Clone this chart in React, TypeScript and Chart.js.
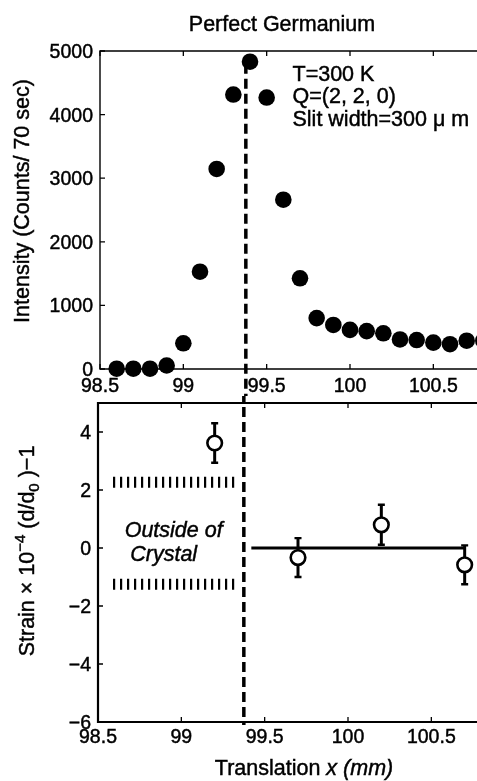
import React, { useEffect, useRef } from 'react';
import { Chart, registerables } from 'chart.js';

Chart.register(...registerables);

const FONT = '"Liberation Sans", Arial, Helvetica, sans-serif';

// ---------- data ----------
const translationX = [98.6, 98.7, 98.8, 98.9, 99.0, 99.1, 99.2, 99.3, 99.4, 99.5, 99.6, 99.7, 99.8, 99.9, 100.0, 100.1, 100.2, 100.3, 100.4, 100.5, 100.6, 100.7, 100.8];
const intensity = [5, 5, 5, 55, 404, 1530, 3145, 4315, 4832, 4268, 2662, 1426, 800, 692, 615, 595, 561, 465, 455, 415, 390, 445, 445];

const strainX = [99.2, 99.7, 100.2, 100.7];
const strain = [3.62, -0.33, 0.8, -0.58];
const strainErr = [0.68, 0.67, 0.69, 0.67];

const fitX = [99.42, 100.7];
const fitY = [0, 0];

const boundaryX = 99.375;
const boundaryTopIntensity = 4800;
const outsideBandX = [98.59, 99.34];
const outsideBandY = [2.27, -1.25];

const translationTicks = [98.5, 99, 99.5, 100, 100.5];
const intensityTicks = [0, 1000, 2000, 3000, 4000, 5000];
const strainTicks = [-6, -4, -2, 0, 2, 4];

const titleText = 'Perfect Germanium';
const infoLines = ['T=300 K', 'Q=(2, 2, 0)', 'Slit width=300 \u03bc m'];
const infoAnchor = { x: 99.655, y: [4533, 4175, 3826] };
const outsideLines = ['Outside of', 'Crystal'];
const outsideAnchor = { x: [98.954, 98.894], y: [0.38, -0.44] };

// ---------- helpers ----------
const fmt = (v: number) => (v < 0 ? '\u2212' + Math.abs(v) : String(v));
const TEXT_STROKE = 0.45;
const TICK_SIZE = 19.5;
const tickFontCss = `${TICK_SIZE}px ${FONT}`;
const textFont = `21.5px ${FONT}`;
const italicFont = `italic 21.5px ${FONT}`;
const smallFont = `15px ${FONT}`;

function fillBold(ctx: CanvasRenderingContext2D, t: string, x: number, y: number) {
  ctx.fillText(t, x, y);
  ctx.lineWidth = TEXT_STROKE;
  ctx.strokeStyle = '#000';
  ctx.strokeText(t, x, y);
}

type Seg = { t: string; font: string; dy?: number };
function drawRich(ctx: CanvasRenderingContext2D, segs: Seg[], cx: number, cy: number, rotate: boolean) {
  ctx.save();
  ctx.fillStyle = '#000';
  ctx.textBaseline = 'alphabetic';
  ctx.textAlign = 'left';
  let total = 0;
  const widths = segs.map((s) => {
    ctx.font = s.font;
    const w = ctx.measureText(s.t).width;
    total += w;
    return w;
  });
  ctx.translate(cx, cy);
  if (rotate) ctx.rotate(-Math.PI / 2);
  let x = -total / 2;
  segs.forEach((s, i) => {
    ctx.font = s.font;
    fillBold(ctx, s.t, x, s.dy || 0);
    x += widths[i];
  });
  ctx.restore();
}

// axes box, inward ticks and tick labels, drawn from the chart's own scales
function framePlugin(lw: number, tickLen: number, xLabelBaseline: number, yLabelGap: number) {
  return {
    id: 'frame',
    beforeDatasetsDraw(chart: any) {
      const { ctx, chartArea: a, scales } = chart;
      const x = scales.x;
      const y = scales.y;
      ctx.save();
      ctx.strokeStyle = '#000';
      ctx.lineWidth = lw;
      ctx.beginPath();
      ctx.moveTo(chart.width + 4, a.top);
      ctx.lineTo(a.left, a.top);
      ctx.lineTo(a.left, a.bottom);
      ctx.lineTo(chart.width + 4, a.bottom);
      ctx.stroke();
      ctx.lineWidth = 1.3;
      ctx.beginPath();
      x.ticks.forEach((t: any) => {
        const px = x.getPixelForValue(t.value);
        ctx.moveTo(px, a.bottom);
        ctx.lineTo(px, a.bottom - tickLen);
        ctx.moveTo(px, a.top);
        ctx.lineTo(px, a.top + tickLen);
      });
      y.ticks.forEach((t: any) => {
        const py = y.getPixelForValue(t.value);
        ctx.moveTo(a.left, py);
        ctx.lineTo(a.left + tickLen, py);
      });
      ctx.stroke();

      ctx.fillStyle = '#000';
      ctx.font = tickFontCss;
      ctx.textBaseline = 'alphabetic';
      ctx.textAlign = 'center';
      x.ticks.forEach((t: any) => {
        fillBold(ctx, fmt(t.value), x.getPixelForValue(t.value), a.bottom + xLabelBaseline);
      });
      ctx.textAlign = 'right';
      y.ticks.forEach((t: any) => {
        fillBold(ctx, fmt(t.value), a.left - yLabelGap, y.getPixelForValue(t.value) + TICK_SIZE * 0.36);
      });
      ctx.restore();
    },
  };
}

function boundaryPlugin(fromTop: number | null, toBottomPad: number | null, dashOffset: number) {
  return {
    id: 'boundary',
    beforeDatasetsDraw(chart: any) {
      const { ctx, scales, chartArea: a } = chart;
      const px = scales.x.getPixelForValue(boundaryX);
      const y0 = fromTop === null ? 0 : scales.y.getPixelForValue(fromTop);
      const y1 = toBottomPad === null ? chart.height : a.bottom + toBottomPad;
      ctx.save();
      ctx.strokeStyle = '#000';
      ctx.lineWidth = 3.5;
      ctx.setLineDash([10, 5]);
      ctx.lineDashOffset = dashOffset;
      ctx.beginPath();
      ctx.moveTo(px, y0);
      ctx.lineTo(px, y1);
      ctx.stroke();
      ctx.restore();
    },
  };
}

const TOP_H = 396;
const BOT_H = 781 - TOP_H;

function scaleX(min: number, max: number, height: number) {
  return {
    type: 'linear',
    min,
    max,
    grid: { display: false, drawTicks: false },
    border: { display: false },
    ticks: { display: false },
    afterBuildTicks: (s: any) => {
      s.ticks = translationTicks.map((v) => ({ value: v }));
    },
    afterFit: (s: any) => {
      s.height = height;
      s.paddingLeft = 0;
      s.paddingRight = 0;
      s.paddingTop = 0;
      s.paddingBottom = 0;
    },
  };
}

function scaleY(min: number, max: number, ticks: number[], width: number) {
  return {
    type: 'linear',
    min,
    max,
    grid: { display: false, drawTicks: false },
    border: { display: false },
    ticks: { display: false },
    afterBuildTicks: (s: any) => {
      s.ticks = ticks.map((v) => ({ value: v }));
    },
    afterFit: (s: any) => {
      s.width = width;
      s.paddingLeft = 0;
      s.paddingRight = 0;
      s.paddingTop = 0;
      s.paddingBottom = 0;
    },
  };
}

export default function App() {
  const topRef = useRef<HTMLCanvasElement | null>(null);
  const botRef = useRef<HTMLCanvasElement | null>(null);

  useEffect(() => {
    const topTexts = {
      id: 'topTexts',
      afterDraw(chart: any) {
        const { ctx, scales } = chart;
        ctx.save();
        ctx.fillStyle = '#000';
        ctx.font = textFont;
        ctx.textAlign = 'center';
        ctx.textBaseline = 'alphabetic';
        fillBold(ctx, titleText, 282, 31);
        ctx.textAlign = 'left';
        infoLines.forEach((line, i) => {
          fillBold(ctx, line, scales.x.getPixelForValue(infoAnchor.x), scales.y.getPixelForValue(infoAnchor.y[i]));
        });
        ctx.restore();
        drawRich(ctx, [{ t: 'Intensity (Counts/ 70 sec)', font: textFont }], 29, 201, true);
      },
    };

    const topChart = new Chart(topRef.current as HTMLCanvasElement, {
      type: 'scatter',
      data: {
        datasets: [
          {
            data: translationX.map((x, i) => ({ x, y: intensity[i] })),
            pointRadius: 8.3,
            pointHoverRadius: 8.3,
            backgroundColor: '#000',
            borderWidth: 0,
            clip: false as any,
          },
        ],
      },
      options: {
        animation: false,
        responsive: false,
        events: [],
        layout: { padding: { top: 51, left: 0, right: 0, bottom: 0 }, autoPadding: false },
        plugins: { legend: { display: false }, tooltip: { enabled: false }, title: { display: false } },
        scales: {
          x: scaleX(98.5, 100.762, TOP_H - 369),
          y: scaleY(0, 5000, intensityTicks, 100),
        },
      } as any,
      plugins: [framePlugin(1.4, 5, 23, 7), boundaryPlugin(boundaryTopIntensity, null, 0), topTexts],
    });

    const errorBars = {
      id: 'errorBars',
      beforeDatasetsDraw(chart: any) {
        const { ctx, scales } = chart;
        const { x, y } = scales;
        ctx.save();
        ctx.strokeStyle = '#000';
        strainX.forEach((xv, i) => {
          const px = x.getPixelForValue(xv);
          const top = y.getPixelForValue(strain[i] + strainErr[i]);
          const bot = y.getPixelForValue(strain[i] - strainErr[i]);
          ctx.lineWidth = 3;
          ctx.beginPath();
          ctx.moveTo(px, top);
          ctx.lineTo(px, bot);
          ctx.stroke();
          ctx.lineWidth = 2.4;
          ctx.beginPath();
          ctx.moveTo(px - 3.5, top);
          ctx.lineTo(px + 3.5, top);
          ctx.moveTo(px - 3.5, bot);
          ctx.lineTo(px + 3.5, bot);
          ctx.stroke();
        });
        ctx.restore();
      },
    };

    const botTexts = {
      id: 'botTexts',
      afterDraw(chart: any) {
        const { ctx, scales } = chart;
        ctx.save();
        ctx.fillStyle = '#000';
        ctx.font = italicFont;
        ctx.textAlign = 'center';
        ctx.textBaseline = 'alphabetic';
        outsideLines.forEach((line, i) => {
          fillBold(ctx, line, scales.x.getPixelForValue(outsideAnchor.x[i]), scales.y.getPixelForValue(outsideAnchor.y[i]));
        });
        ctx.restore();
        drawRich(
          ctx,
          [
            { t: 'Strain \u00d7 10', font: textFont },
            { t: '\u22124', font: smallFont, dy: -9 },
            { t: ' (d/d', font: textFont },
            { t: '0', font: smallFont, dy: 5 },
            { t: ' )\u22121', font: textFont },
          ],
          34,
          551 - TOP_H,
          true
        );
        drawRich(
          ctx,
          [
            { t: 'Translation ', font: textFont },
            { t: 'x (mm)', font: italicFont },
          ],
          304,
          775 - TOP_H,
          false
        );
      },
    };

    const bandDataset = (yv: number) => ({
      data: outsideBandX.map((x) => ({ x, y: yv })),
      showLine: true,
      pointRadius: 0,
      borderColor: '#000',
      borderWidth: 11,
      borderDash: [2.2, 4.8],
      borderCapStyle: 'butt' as const,
      order: 2,
    });

    const botChart = new Chart(botRef.current as HTMLCanvasElement, {
      type: 'scatter',
      data: {
        datasets: [
          {
            data: strainX.map((x, i) => ({ x, y: strain[i] })),
            pointRadius: 7.3,
            pointHoverRadius: 7.3,
            backgroundColor: '#fff',
            borderColor: '#000',
            borderWidth: 2.6,
            order: 0,
            clip: false as any,
          },
          {
            data: fitX.map((x, i) => ({ x, y: fitY[i] })),
            showLine: true,
            pointRadius: 0,
            borderColor: '#000',
            borderWidth: 3,
            order: 1,
          },
          bandDataset(outsideBandY[0]),
          bandDataset(outsideBandY[1]),
        ] as any,
      },
      options: {
        animation: false,
        responsive: false,
        events: [],
        layout: { padding: { top: 403 - TOP_H, left: 0, right: 0, bottom: 0 }, autoPadding: false },
        plugins: { legend: { display: false }, tooltip: { enabled: false }, title: { display: false } },
        scales: {
          x: scaleX(98.5, 100.774, 781 - 722),
          y: scaleY(-6, 5, strainTicks, 98),
        },
      } as any,
      plugins: [framePlugin(2.2, 5, 21, 7), boundaryPlugin(null, 3, 4), errorBars, botTexts],
    });

    return () => {
      topChart.destroy();
      botChart.destroy();
    };
  }, []);

  return (
    <div style={{ position: 'absolute', left: 0, top: 0, width: 477, height: 781, background: '#fff', overflow: 'hidden' }}>
      <canvas ref={topRef} width={477} height={TOP_H} style={{ display: 'block', width: 477, height: TOP_H }} />
      <canvas ref={botRef} width={477} height={BOT_H} style={{ display: 'block', width: 477, height: BOT_H }} />
    </div>
  );
}
